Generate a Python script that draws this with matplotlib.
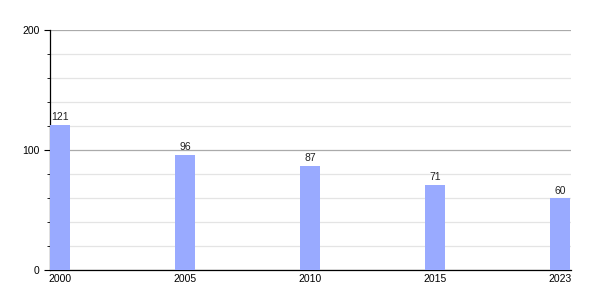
import matplotlib.pyplot as plt
from matplotlib.ticker import MultipleLocator

years = ["2000", "2005", "2010", "2015", "2023"]
values = [121, 96, 87, 71, 60]

plt.rcParams['font.family'] = ['Liberation Sans', 'DejaVu Sans']

fig = plt.figure(figsize=(6, 3), dpi=100)
ax = fig.add_axes([50/600, 0.1, 521/600, 0.8])

x = list(range(len(years)))
bars = ax.bar(x, values, width=0.16, color='#99aaff', zorder=3)
for xi, v in zip(x, values):
    ax.text(xi, v + 2, str(v), ha='center', va='bottom', fontsize=7.5, color='#222222', zorder=4)

ax.set_xlim(-0.08, 4.088)
ax.set_ylim(0, 200)
ax.set_xticks(x)
ax.set_xticklabels(years, fontsize=7.5)
ax.yaxis.set_major_locator(MultipleLocator(100))
ax.yaxis.set_minor_locator(MultipleLocator(20))
ax.tick_params(axis='y', which='major', labelsize=7.5, length=4, direction='out')
ax.tick_params(axis='y', which='minor', length=2, direction='out')
ax.tick_params(axis='x', length=0, pad=3)

ax.grid(axis='y', which='major', color='#aaaaaa', lw=0.9, zorder=1)
ax.grid(axis='y', which='minor', color='#e4e4e4', lw=0.9, zorder=1)

for s in ['top', 'right']:
    ax.spines[s].set_visible(False)
ax.spines['left'].set_linewidth(0.9)
ax.spines['bottom'].set_linewidth(0.9)

fig.savefig('out.png', dpi=100)
